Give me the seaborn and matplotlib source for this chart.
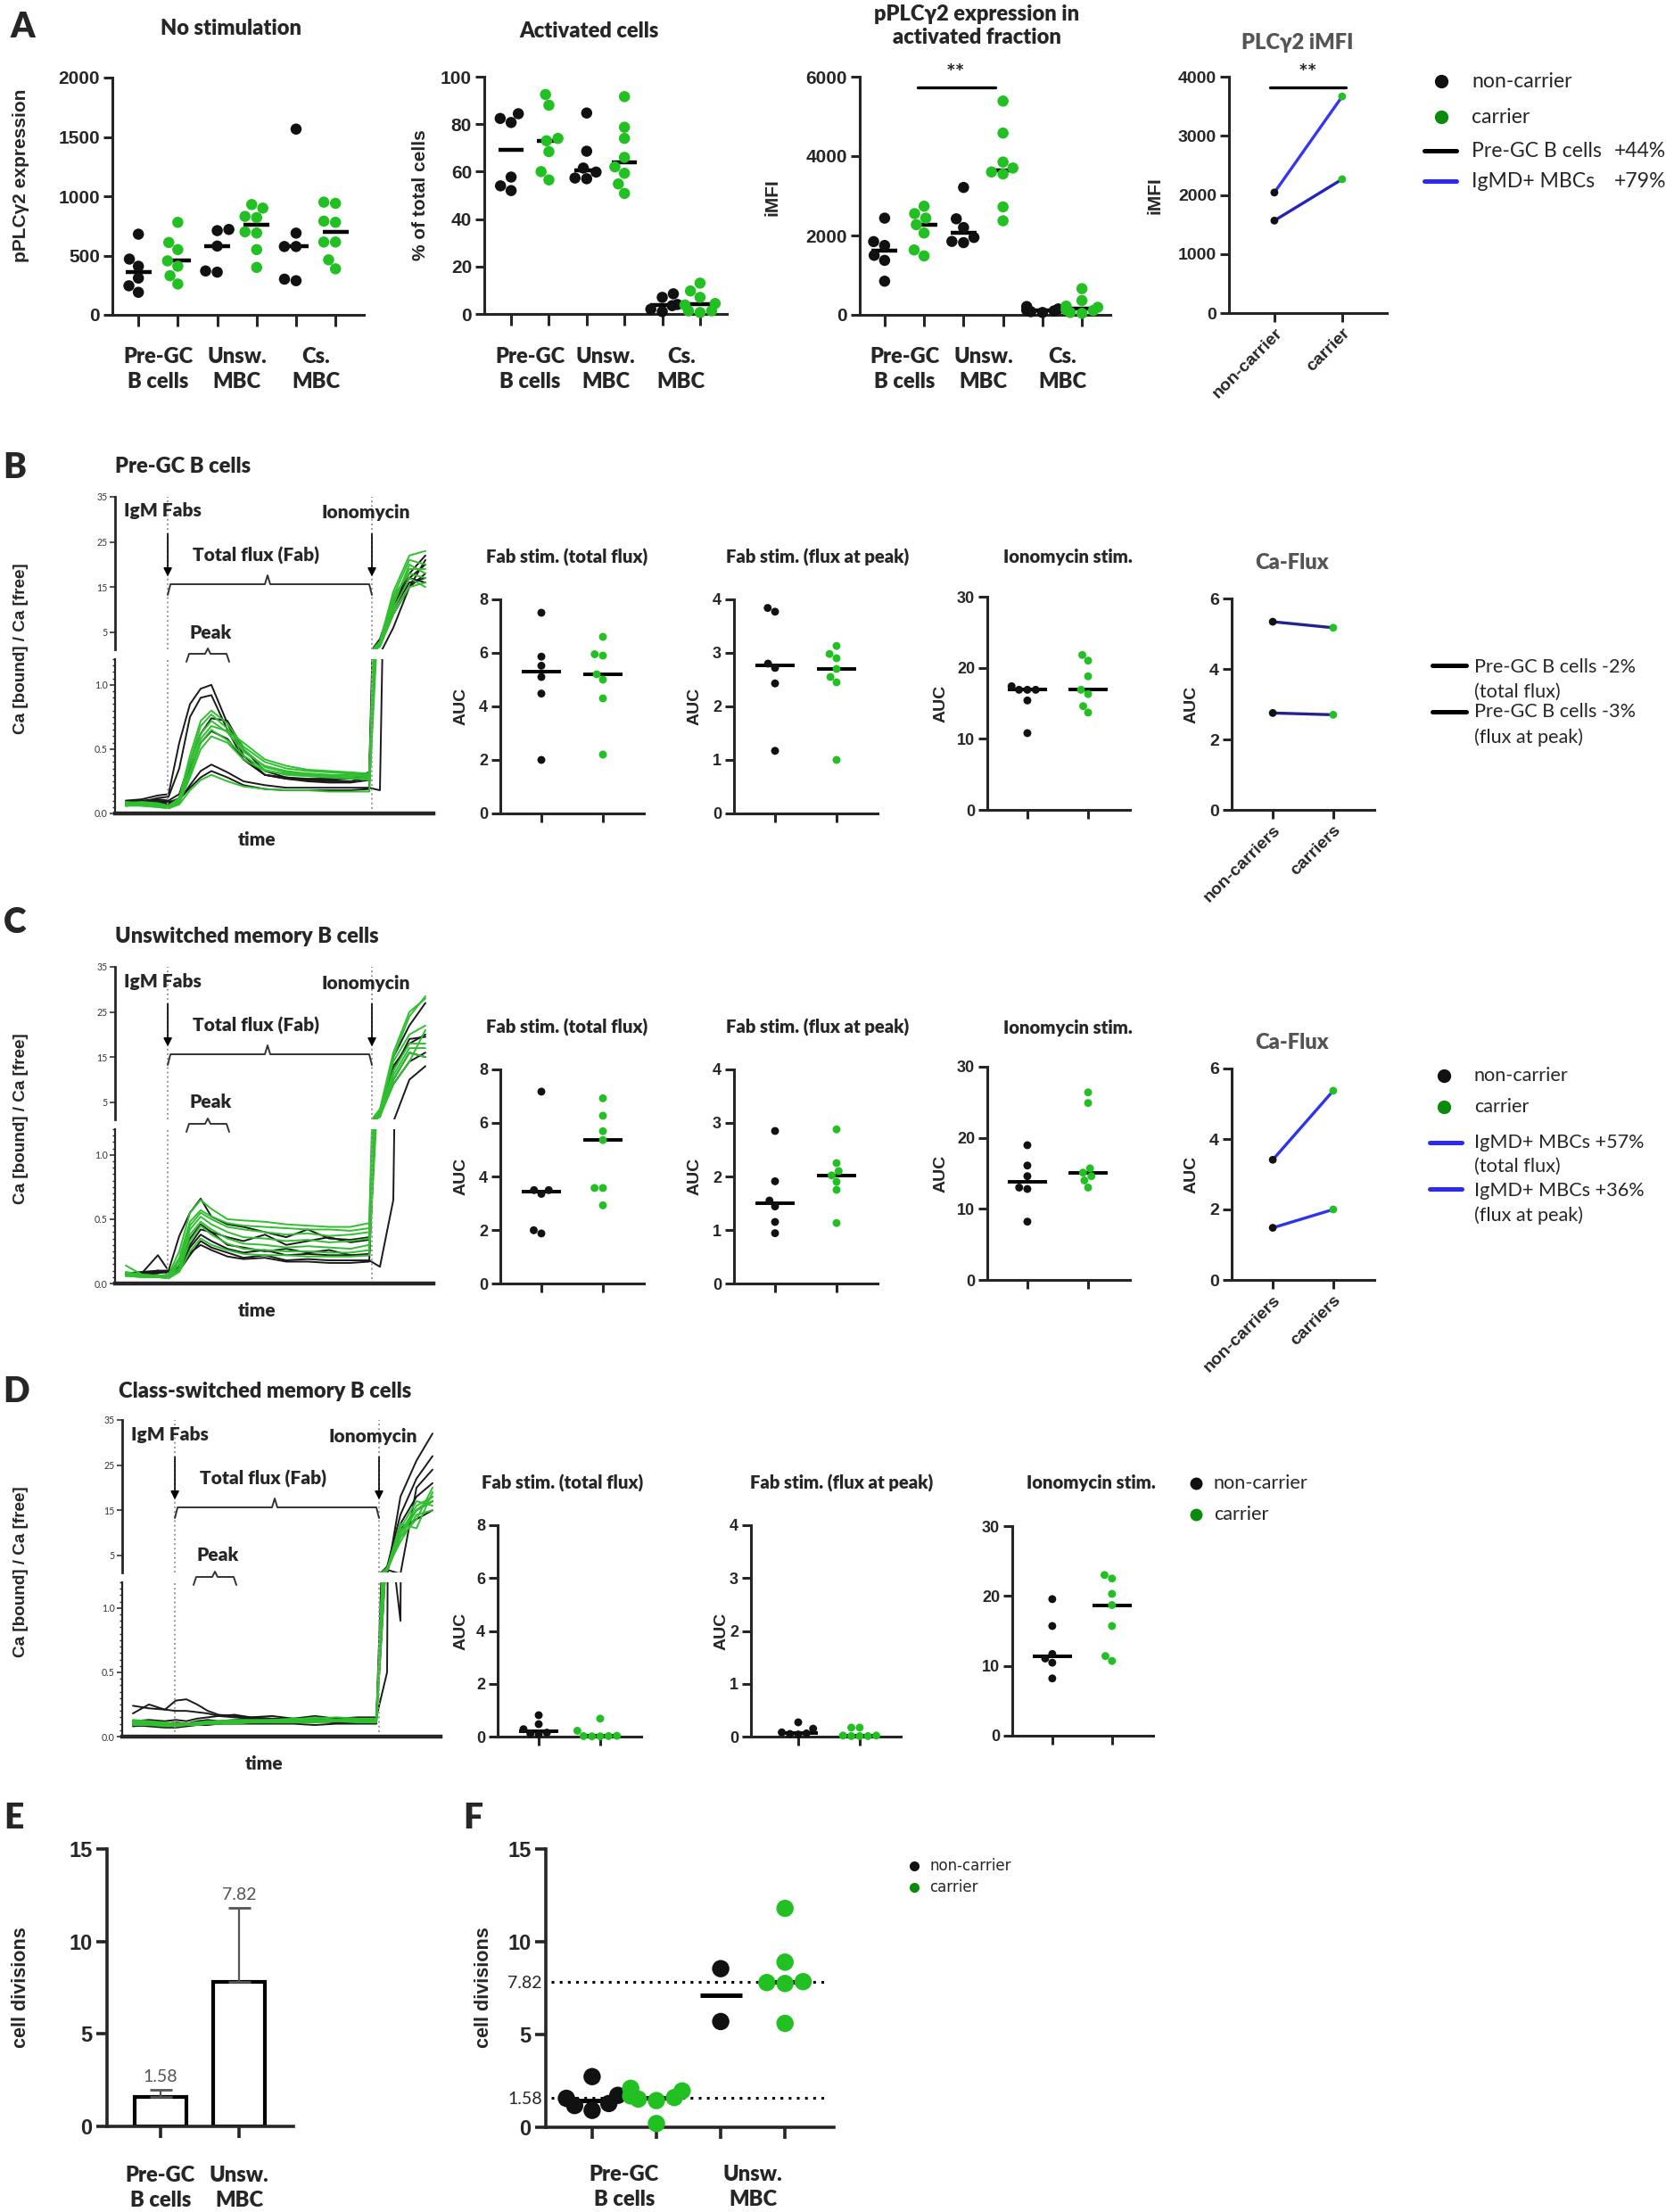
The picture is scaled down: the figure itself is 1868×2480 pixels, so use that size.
"""
BCR signalling figure: pPLCg2 expression, calcium flux and cell divisions
"""
import matplotlib
matplotlib.use("Agg")
import pandas as pd
import matplotlib.pyplot as plt
import seaborn as sns
from matplotlib import font_manager
from matplotlib.lines import Line2D
from matplotlib.patches import FancyArrowPatch
from matplotlib.ticker import MultipleLocator

W, H, DPI = 1868, 2480, 200

BLACK = "#111111"
GREEN = "#22c022"
GREEN_KEY = "#0b8a0b"
PAL = {"nc": BLACK, "c": GREEN}
HEAVY = "heavy"

# ---------------- data ----------------
CELL_LABELS = ["Pre-GC\nB cells", "Unsw.\nMBC", "Cs.\nMBC"]

# A - per cell type: [Pre-GC, Unsw., Cs.]
NOSTIM_NC = [[190, 245, 310, 410, 470, 680], [720, 710, 580, 370, 360],
             [1566, 689, 576, 576, 301, 288]]
NOSTIM_C = [[780, 610, 550, 455, 410, 330, 260], [930, 900, 830, 820, 700, 690, 550, 400],
            [950, 940, 790, 780, 614, 614, 464, 388]]
ACT_NC = [[84.4, 82.4, 80.7, 57.7, 54, 52], [84.7, 68.6, 61.5, 59.8, 57.3, 57],
          [8.5, 7, 4, 3.5, 2, 1]]
ACT_C = [[92.5, 88, 74, 73, 68.4, 60, 56.5], [91.6, 78.7, 74, 66, 62, 59.3, 54.8, 50.8],
         [13, 9.7, 7, 4.4, 3.8, 1.3, 1.3, 0.6]]
IMFI_NC = [[2437, 1845, 1748, 1500, 1373, 848], [3210, 2420, 2200, 1950, 1850, 1820],
           [210, 150, 120, 100, 80, 60]]
IMFI_C = [[2737, 2550, 2437, 2272, 2062, 1635, 1485], [5385, 4580, 3850, 3700, 3600, 3550, 2720, 2370],
          [660, 360, 220, 190, 130, 110, 60, 40]]
PLC_PAIRS = ["IgMD+ MBCs", "Pre-GC B cells"]
PLC_NC = [2040, 1565]
PLC_C = [3665, 2265]

# calcium traces, sampled at TIME
TIME = [4, 10, 16, 20, 24, 28, 32, 36, 42, 48, 56, 64, 72, 80, 88, 95, 99, 104, 110, 116]
FAB_T, IONO_T, T_END = 19.7, 96, 119

B_BLACK = [
    [0.10, 0.11, 0.14, 0.15, 0.55, 0.85, 0.97, 1.00, 0.70, 0.45, 0.30, 0.28, 0.27, 0.27, 0.28, 0.32, 3.5, 12, 18, 22],
    [0.08, 0.09, 0.12, 0.13, 0.35, 0.75, 0.90, 0.92, 0.65, 0.42, 0.30, 0.27, 0.26, 0.26, 0.27, 0.30, 3.0, 11, 17, 20],
    [0.09, 0.10, 0.11, 0.10, 0.15, 0.40, 0.62, 0.74, 0.72, 0.50, 0.33, 0.28, 0.26, 0.25, 0.25, 0.28, 2.5, 10, 16, 17],
    [0.07, 0.08, 0.09, 0.08, 0.12, 0.35, 0.55, 0.64, 0.58, 0.42, 0.30, 0.27, 0.25, 0.24, 0.24, 0.26, 2.8, 12, 17, 16],
    [0.06, 0.07, 0.08, 0.07, 0.10, 0.22, 0.33, 0.38, 0.32, 0.25, 0.22, 0.20, 0.20, 0.20, 0.20, 0.20, 0.18, 6, 15, 21],
    [0.08, 0.09, 0.10, 0.09, 0.11, 0.20, 0.28, 0.33, 0.28, 0.22, 0.19, 0.18, 0.18, 0.18, 0.18, 0.19, 2.0, 9, 15, 18],
]
B_GREEN = [
    [0.08, 0.09, 0.08, 0.06, 0.12, 0.45, 0.72, 0.80, 0.70, 0.52, 0.40, 0.35, 0.33, 0.32, 0.31, 0.30, 3.0, 14, 22, 23],
    [0.07, 0.08, 0.07, 0.05, 0.10, 0.40, 0.68, 0.77, 0.66, 0.50, 0.36, 0.32, 0.31, 0.30, 0.30, 0.29, 2.5, 13, 21, 20],
    [0.09, 0.08, 0.07, 0.06, 0.11, 0.38, 0.62, 0.72, 0.63, 0.48, 0.37, 0.33, 0.31, 0.30, 0.29, 0.28, 2.2, 12, 19, 19],
    [0.06, 0.07, 0.06, 0.05, 0.09, 0.33, 0.58, 0.68, 0.64, 0.55, 0.42, 0.37, 0.34, 0.33, 0.32, 0.31, 2.0, 11, 20, 18],
    [0.08, 0.07, 0.06, 0.05, 0.09, 0.30, 0.55, 0.65, 0.57, 0.45, 0.34, 0.30, 0.29, 0.28, 0.27, 0.27, 2.4, 13, 18, 17],
    [0.07, 0.06, 0.05, 0.04, 0.08, 0.28, 0.50, 0.60, 0.55, 0.42, 0.33, 0.31, 0.30, 0.29, 0.28, 0.26, 2.0, 10, 17, 15],
    [0.06, 0.06, 0.05, 0.04, 0.07, 0.18, 0.26, 0.30, 0.25, 0.21, 0.19, 0.18, 0.18, 0.17, 0.17, 0.17, 1.8, 9, 15, 16],
]
C_BLACK = [
    [0.07, 0.08, 0.08, 0.10, 0.37, 0.55, 0.66, 0.52, 0.46, 0.44, 0.40, 0.36, 0.42, 0.35, 0.34, 0.36, 1.8, 15, 22, 27],
    [0.06, 0.07, 0.08, 0.09, 0.12, 0.30, 0.42, 0.40, 0.36, 0.33, 0.38, 0.30, 0.33, 0.36, 0.32, 0.34, 2.5, 12, 19, 19.5],
    [0.08, 0.08, 0.09, 0.09, 0.12, 0.28, 0.38, 0.33, 0.27, 0.24, 0.26, 0.22, 0.23, 0.22, 0.22, 0.23, 2.0, 10, 16, 15],
    [0.07, 0.07, 0.10, 0.08, 0.10, 0.22, 0.33, 0.28, 0.24, 0.20, 0.22, 0.18, 0.19, 0.18, 0.18, 0.18, 0.13, 0.65, 10, 13],
    [0.07, 0.08, 0.22, 0.10, 0.12, 0.24, 0.30, 0.26, 0.21, 0.19, 0.20, 0.17, 0.17, 0.16, 0.16, 0.17, 2.2, 9, 14, 16],
    [0.08, 0.09, 0.10, 0.10, 0.14, 0.35, 0.46, 0.40, 0.30, 0.28, 0.25, 0.27, 0.24, 0.26, 0.22, 0.22, 2.8, 13, 18, 20],
]
C_GREEN = [
    [0.14, 0.07, 0.06, 0.07, 0.25, 0.55, 0.65, 0.58, 0.50, 0.49, 0.48, 0.46, 0.45, 0.44, 0.44, 0.47, 3.5, 16, 25, 28],
    [0.08, 0.06, 0.05, 0.06, 0.20, 0.48, 0.57, 0.52, 0.47, 0.45, 0.44, 0.43, 0.42, 0.42, 0.41, 0.43, 3.0, 15, 24, 28.5],
    [0.07, 0.06, 0.05, 0.05, 0.18, 0.45, 0.55, 0.50, 0.44, 0.42, 0.40, 0.38, 0.39, 0.37, 0.38, 0.40, 2.8, 14, 20, 22],
    [0.09, 0.07, 0.06, 0.05, 0.15, 0.42, 0.52, 0.46, 0.40, 0.36, 0.35, 0.33, 0.34, 0.32, 0.33, 0.35, 2.5, 12, 18, 18],
    [0.06, 0.05, 0.05, 0.05, 0.12, 0.38, 0.48, 0.42, 0.35, 0.31, 0.30, 0.28, 0.29, 0.28, 0.27, 0.30, 2.2, 11, 17, 17],
    [0.07, 0.06, 0.05, 0.04, 0.10, 0.33, 0.45, 0.38, 0.31, 0.27, 0.26, 0.25, 0.25, 0.24, 0.24, 0.26, 2.0, 10, 16, 15],
    [0.06, 0.05, 0.05, 0.04, 0.09, 0.25, 0.35, 0.30, 0.26, 0.23, 0.22, 0.22, 0.21, 0.21, 0.21, 0.22, 1.8, 9, 14, 21],
]
D_BLACK = [
    [0.18, 0.25, 0.21, 0.28, 0.29, 0.25, 0.20, 0.17, 0.16, 0.15, 0.14, 0.14, 0.14, 0.14, 0.15, 0.15, 0.5, 18, 26, 32],
    [0.24, 0.22, 0.21, 0.20, 0.20, 0.19, 0.18, 0.16, 0.15, 0.14, 0.13, 0.14, 0.13, 0.13, 0.13, 0.14, 2.5, 14, 22, 27],
    [0.12, 0.13, 0.12, 0.13, 0.12, 0.14, 0.15, 0.16, 0.17, 0.15, 0.16, 0.14, 0.16, 0.14, 0.14, 0.14, 1.8, 0.9, 20, 24],
    [0.10, 0.11, 0.10, 0.11, 0.10, 0.12, 0.13, 0.12, 0.13, 0.14, 0.13, 0.12, 0.13, 0.12, 0.13, 0.13, 2.0, 12, 18, 21],
    [0.08, 0.09, 0.08, 0.09, 0.09, 0.10, 0.11, 0.10, 0.11, 0.12, 0.11, 0.11, 0.12, 0.11, 0.11, 0.12, 1.5, 10, 15, 17],
    [0.09, 0.08, 0.07, 0.07, 0.08, 0.09, 0.09, 0.10, 0.10, 0.10, 0.10, 0.10, 0.09, 0.10, 0.10, 0.10, 2.2, 11, 13, 15],
]
D_GREEN = [
    [0.12, 0.11, 0.10, 0.10, 0.10, 0.11, 0.12, 0.12, 0.13, 0.13, 0.13, 0.14, 0.14, 0.15, 0.14, 0.14, 2.0, 12, 11, 19],
    [0.11, 0.10, 0.10, 0.09, 0.10, 0.10, 0.11, 0.12, 0.12, 0.12, 0.13, 0.13, 0.13, 0.13, 0.13, 0.13, 1.8, 10, 16, 18],
    [0.10, 0.10, 0.09, 0.09, 0.09, 0.10, 0.10, 0.11, 0.11, 0.12, 0.12, 0.12, 0.12, 0.13, 0.12, 0.12, 1.6, 9, 15, 17],
    [0.13, 0.12, 0.11, 0.10, 0.10, 0.11, 0.11, 0.11, 0.12, 0.12, 0.12, 0.13, 0.15, 0.13, 0.13, 0.13, 2.2, 8, 14, 15],
    [0.09, 0.09, 0.08, 0.08, 0.09, 0.09, 0.10, 0.10, 0.11, 0.11, 0.11, 0.11, 0.11, 0.12, 0.11, 0.11, 1.5, 9, 13, 20],
    [0.11, 0.11, 0.10, 0.10, 0.10, 0.10, 0.11, 0.11, 0.11, 0.12, 0.12, 0.12, 0.12, 0.12, 0.12, 0.12, 1.7, 11, 17, 16],
    [0.10, 0.09, 0.09, 0.08, 0.09, 0.09, 0.10, 0.10, 0.10, 0.11, 0.11, 0.11, 0.11, 0.12, 0.12, 0.12, 1.9, 10, 15, 18],
]

# AUC values
B_TOTAL_NC = [7.5, 5.86, 5.52, 5.1, 4.48, 2.0]
B_TOTAL_C = [6.6, 5.95, 5.9, 5.2, 5.0, 4.3, 2.2]
B_PEAK_NC = [3.84, 3.77, 2.8, 2.72, 2.43, 1.17]
B_PEAK_C = [3.13, 2.98, 2.9, 2.7, 2.55, 2.45, 1.0]
B_IONO_NC = [17.4, 16.9, 16.9, 16.9, 15.4, 10.8]
B_IONO_C = [21.8, 21.0, 18.8, 16.9, 16.3, 14.6, 13.7]
C_TOTAL_NC = [7.17, 3.49, 3.49, 3.35, 1.99, 1.87]
C_TOTAL_C = [6.92, 6.27, 5.69, 5.36, 3.57, 3.57, 2.92]
C_PEAK_NC = [2.85, 1.91, 1.55, 1.44, 1.15, 0.94]
C_PEAK_C = [2.88, 2.25, 2.1, 2.02, 1.9, 1.75, 1.13]
C_IONO_NC = [18.96, 16.1, 14.6, 13.0, 12.8, 8.2]
C_IONO_C = [26.4, 24.9, 15.7, 15.1, 14.6, 14.0, 13.0]
D_TOTAL_NC = [0.81, 0.47, 0.28, 0.15, 0.11, 0.09]
D_TOTAL_C = [0.68, 0.22, 0.03, 0.02, 0.02, 0.01, 0.01]
D_PEAK_NC = [0.27, 0.15, 0.08, 0.06, 0.05, 0.04]
D_PEAK_C = [0.17, 0.17, 0.02, 0.02, 0.01, 0.01, 0.01]
D_IONO_NC = [19.55, 15.7, 11.7, 11.05, 10.45, 8.2]
D_IONO_C = [23.0, 22.5, 20.3, 18.7, 15.7, 11.4, 10.7]

FLUX_PAIRS = ["total flux", "flux at peak"]
B_FLUX_NC = [5.34, 2.75]
B_FLUX_C = [5.17, 2.70]
C_FLUX_NC = [3.41, 1.48]
C_FLUX_C = [5.37, 2.0]

# E / F - cell divisions
E_CATS = ["Pre-GC\nB cells", "Unsw.\nMBC"]
E_MEAN = [1.58, 7.82]
E_ERR = [0.42, 3.98]
F_NC = [[2.73, 1.72, 1.56, 1.28, 1.17, 0.91], [8.55, 5.7]]
F_C = [[2.1, 1.96, 1.69, 1.6, 1.52, 1.44, 0.2], [11.8, 8.9, 7.85, 7.8, 7.75, 5.6]]

# ---------------- style ----------------
sns.set_style("ticks")


def has_bold(name):
    for f in font_manager.fontManager.ttflist:
        if f.name != name:
            continue
        w = f.weight
        if isinstance(w, str):
            w = font_manager.weight_dict.get(w, 400)
        if w >= 600:
            return True
    return False


def pick(candidates):
    for name in candidates:
        if has_bold(name):
            return name
    return "DejaVu Sans"


TEXT_FONT = [pick(["Lato", "Roboto", "Open Sans", "Noto Sans", "Liberation Sans"]), "DejaVu Sans"]
ARIAL = [pick(["Liberation Sans", "DejaVu Sans"]), "DejaVu Sans"]
NARROW = [pick(["Liberation Sans Narrow", "Liberation Sans"]), "DejaVu Sans"]
plt.rcParams["font.family"] = TEXT_FONT

fig = plt.figure(figsize=(W / DPI, H / DPI), dpi=DPI)


def box(l, t, r, b):
    """axes rectangle from pixel edges (top-left origin)"""
    return [l / W, 1 - b / H, (r - l) / W, (b - t) / H]


def fpt(x, y):
    return (x / W, 1 - y / H)


def label(x, y, s, size=7.5, weight=HEAVY, family=None, **kw):
    kw.setdefault("ha", "center")
    kw.setdefault("va", "center")
    fig.text(x / W, 1 - y / H, s, fontsize=size, fontweight=weight,
             family=family or TEXT_FONT, **kw)


def ylab(x, y, s, size=7):
    label(x, y, s, size=size, weight="bold", family=ARIAL, rotation=90)


def style(ax, lw=1.1, size=7, length=3.5):
    sns.despine(ax=ax)
    for side in ("left", "bottom"):
        ax.spines[side].set_linewidth(lw)
    ax.tick_params(width=lw, length=length, pad=1.5)
    ticks = ax.get_yticks()
    ax.set_yticks(ticks)
    ax.set_yticklabels([f"{v:g}" for v in ticks], fontsize=size, fontweight="bold", family=NARROW)
    ax.set_xlabel("")
    ax.set_ylabel("")


def dot_panel(rect, nc_sets, c_sets, ylim, yticks, size, xlim, med_lw=1.5, tick_size=7):
    ax = fig.add_axes(rect)
    rows, order = [], []
    for i, (nc, c) in enumerate(zip(nc_sets, c_sets)):
        for grp, vals in (("nc", nc), ("c", c)):
            key = f"{i}{grp}"
            order.append(key)
            rows += [(key, grp, v) for v in vals]
    df = pd.DataFrame(rows, columns=["pos", "grp", "val"])
    sns.swarmplot(data=df, x="pos", y="val", hue="grp", order=order, palette=PAL,
                  size=size, linewidth=0, legend=False, ax=ax)
    sns.boxplot(data=df, x="pos", y="val", order=order, showbox=False, showcaps=False,
                showfliers=False, whiskerprops={"visible": False},
                medianprops={"color": "black", "linewidth": med_lw}, width=0.65, ax=ax)
    ax.set_xlim(*xlim)
    ax.set_ylim(*ylim)
    ax.set_yticks(list(yticks))
    ax.set_xticks(range(len(order)))
    ax.set_xticklabels([])
    for coll in ax.collections:
        coll.set_clip_on(False)
    style(ax, size=tick_size)
    return ax


def paired_panel(rect, pairs, nc_vals, c_vals, line_colors, ylim, yticks, xlim, ticklabels):
    ax = fig.add_axes(rect)
    n = len(pairs)
    lines = pd.DataFrame({"x": [0] * n + [1] * n, "val": list(nc_vals) + list(c_vals),
                          "pair": list(pairs) * 2})
    sns.lineplot(data=lines, x="x", y="val", hue="pair", palette=dict(zip(pairs, line_colors)),
                 estimator=None, lw=1.2, legend=False, ax=ax)
    pts = lines.assign(grp=["nc"] * n + ["c"] * n)
    sns.scatterplot(data=pts, x="x", y="val", hue="grp", palette=PAL, s=10, edgecolor="none",
                    legend=False, ax=ax, zorder=3)
    ax.set_xlim(*xlim)
    ax.set_ylim(*ylim)
    ax.set_yticks(list(yticks))
    ax.set_xticks([0, 1])
    ax.set_xticklabels(ticklabels, rotation=45, ha="right", va="top", rotation_mode="anchor",
                       family=ARIAL, fontweight="bold", fontsize=7)
    for coll in ax.collections:
        coll.set_clip_on(False)
    style(ax)
    return ax


def brace(x0, x1, y, drop, tip, xm):
    xs = [x0, x0 + 3, xm - 3, xm, xm + 3, x1 - 3, x1]
    ys = [y + drop, y, y, y - tip, y, y, y + drop]
    fig.add_artist(Line2D([x / W for x in xs], [1 - v / H for v in ys], color="#333333",
                          lw=0.7, transform=fig.transFigure))


def key_dot(x, y, color, ms=4.5):
    fig.add_artist(Line2D([x / W], [1 - y / H], marker="o", ms=ms, color=color, ls="none",
                          transform=fig.transFigure))


def key_line(x0, x1, y, color, lw=1.8):
    fig.add_artist(Line2D([x0 / W, x1 / W], [1 - y / H] * 2, color=color, lw=lw,
                          transform=fig.transFigure))


def trace_panel(dx, dy, black, green):
    l, r = 129 + dx, 486 + dx
    up = fig.add_axes(box(l, 557 + dy, r, 728 + dy))
    lo = fig.add_axes(box(l, 739 + dy, r, 912 + dy))
    rows = []
    for grp, traces in (("nc", black), ("c", green)):
        for k, tr in enumerate(traces):
            rows += [(f"{grp}{k}", grp, t, v) for t, v in zip(TIME, tr)]
    df = pd.DataFrame(rows, columns=["trace", "grp", "t", "val"])
    for ax in (up, lo):
        sns.lineplot(data=df, x="t", y="val", hue="grp", units="trace", estimator=None,
                     palette={"nc": "#1a1a1a", "c": "#2fbf2f"}, lw=0.7, legend=False, ax=ax)
        for tv in (FAB_T, IONO_T):
            ax.axvline(tv, color="#9a9a9a", ls=":", lw=0.7)
        ax.set_xlim(0, T_END)
        ax.set_xticks([])
        ax.set_xlabel("")
        ax.set_ylabel("")
        sns.despine(ax=ax)
        ax.tick_params(axis="y", labelsize=3.8, length=2, width=0.6, pad=1, colors="#333333")
    up.set_ylim(1.2, 35)
    up.set_yticks([5, 15, 25, 35])
    up.spines["bottom"].set_visible(False)
    up.spines["left"].set_linewidth(1.0)
    lo.set_ylim(0, 1.2)
    lo.set_yticks([0, 0.5, 1.0])
    lo.set_yticklabels(["0.0", "0.5", "1.0"])
    lo.yaxis.set_minor_locator(MultipleLocator(0.05))
    lo.tick_params(axis="y", which="minor", length=1.2, width=0.5)
    lo.spines["left"].set_linewidth(0.8)
    lo.spines["bottom"].set_linewidth(1.6)

    # stimulation markers
    def tx(t):
        return l + t / T_END * (r - l)
    label(139 + dx, 573 + dy, "IgM Fabs", ha="left")
    label(410 + dx, 575 + dy, "Ionomycin")
    for tv in (FAB_T, IONO_T):
        fig.add_artist(FancyArrowPatch(fpt(tx(tv), 593 + dy), fpt(tx(tv), 652 + dy),
                                       transform=fig.transFigure, arrowstyle="-|>",
                                       mutation_scale=7, lw=0.6, color="black"))
    label(287 + dx, 623 + dy, "Total flux (Fab)")
    brace(tx(FAB_T), tx(IONO_T), 655 + dy, 12, 10, 300 + dx)
    label(236 + dx, 709 + dy, "Peak")
    brace(209 + dx, 257 + dx, 733 + dy, 9, 6, 233 + dx)
    label(288 + dx, 942 + dy, "time")
    ylab(24, 727 + dy, "Ca [bound] / Ca [free]", size=6.8)


def auc_row(dy, total, peak, iono, d_layout=False):
    """three AUC dot plots of one calcium row"""
    if d_layout:
        specs = [((558, 1710, 719, 1947), (-0.667, 1.667), 631, 517),
                 ((842, 1710, 1010, 1947), (-0.77, 1.67), 944, 809),
                 ((1135, 1711, 1293, 1946), (-0.67, 1.69), 1223, None)]
        ty = 1663
    else:
        specs = [((561, 672 + dy, 722, 912 + dy), (-0.667, 1.667), 636, 517),
                 ((823, 672 + dy, 984, 912 + dy), (-0.667, 1.667), 917, 779),
                 ((1107, 669 + dy, 1267, 908 + dy), (-0.66, 1.69), 1197, 1055)]
        ty = 625 + dy
    titles = ["Fab stim. (total flux)", "Fab stim. (flux at peak)", "Ionomycin stim."]
    scales = [((0, 8), [0, 2, 4, 6, 8]), ((0, 4), [0, 1, 2, 3, 4]), ((0, 30), [0, 10, 20, 30])]
    for (rc, xl, tcx, ylx), title, (ylim, yt), (nc, c) in zip(specs, titles, scales, (total, peak, iono)):
        l, t, r, b = rc
        dot_panel(box(l, t, r, b), [nc], [c], ylim, yt, 3.2, xl, med_lw=1.4, tick_size=6.5)
        label(tcx, ty, title, size=7.3)
        if ylx is not None:
            ylab(ylx, (t + b) / 2, "AUC")


# ---------------- A ----------------
label(25, 30, "A", size=14)
label(259, 32, "No stimulation", size=8.5)
label(661, 35, "Activated cells", size=8.5)
label(1095, 29, "pPLCγ2 expression in\nactivated fraction", size=8.5, linespacing=1.25)
label(1455, 48, "PLCγ2 iMFI", size=8.5, color="#555555")

a_specs = [
    ((126, 87, 408, 353), NOSTIM_NC, NOSTIM_C, (0, 2000), range(0, 2001, 500), (-0.66, 5.72),
     (24, 197, "pPLCγ2 expression")),
    ((543, 86, 815, 352), ACT_NC, ACT_C, (0, 100), range(0, 101, 20), (-0.71, 5.71),
     (471, 219, "% of total cells")),
    ((964, 86, 1245, 353), IMFI_NC, IMFI_C, (0, 6000), range(0, 6001, 2000), (-0.63, 5.72),
     (866, 221, "iMFI")),
]
a_axes = []
for rc, nc, c, ylim, yt, xl, (yx, yy, ys) in a_specs:
    l, t, r, b = rc
    ax = dot_panel(box(l, t, r, b), nc, c, ylim, yt, 4.5, xl, med_lw=1.6, tick_size=7.5)
    ax.tick_params(axis="x", length=4.5)
    for i, s in enumerate(CELL_LABELS):
        ax.text(2 * i + 0.5, (b - 414) / (b - t), s, transform=ax.get_xaxis_transform(),
                ha="center", va="center", fontsize=8.5, fontweight=HEAVY, linespacing=1.35)
    ylab(yx, yy, ys, size=7.5)
    a_axes.append(ax)

# significance bar on A3
ax3 = a_axes[2]
ax3.plot([0.85, 2.8], [5730, 5730], color="black", lw=1.2, clip_on=False)
ax3.text(1.8, 6070, "**", ha="center", va="center", fontsize=9, fontweight="bold")

ax4 = paired_panel(box(1378, 86, 1555, 351), PLC_PAIRS, PLC_NC, PLC_C, ["#3535f2", "#2424b8"],
                   (0, 4000), range(0, 4001, 1000), (-0.67, 1.66), ["non-carrier", "carrier"])
ax4.plot([-0.07, 1.05], [3820, 3820], color="black", lw=1.2, clip_on=False)
ax4.text(0.49, 4050, "**", ha="center", va="center", fontsize=9, fontweight="bold")
ylab(1295, 219, "iMFI", size=7.5)

key_dot(1616, 91, BLACK)
key_dot(1616, 131, GREEN_KEY)
key_line(1597, 1633, 169, "black")
key_line(1597, 1633, 203, "#2b2bf0")
for y, s in ((91, "non-carrier"), (131, "carrier"), (169, "Pre-GC B cells"), (203, "IgMD+ MBCs")):
    label(1650, y, s, size=8.3, weight="normal", ha="left")
label(1810, 169, "+44%", size=8.3, weight="normal", ha="left")
label(1810, 203, "+79%", size=8.3, weight="normal", ha="left")

# ---------------- B ----------------
label(16, 525, "B", size=14)
label(129, 523, "Pre-GC B cells", size=8.5, ha="left")
trace_panel(0, 0, B_BLACK, B_GREEN)
auc_row(0, (B_TOTAL_NC, B_TOTAL_C), (B_PEAK_NC, B_PEAK_C), (B_IONO_NC, B_IONO_C))
paired_panel(box(1381, 671, 1541, 908), FLUX_PAIRS, B_FLUX_NC, B_FLUX_C, ["#23238f", "#23238f"],
             (0, 6), [0, 2, 4, 6], (-0.68, 1.68), ["non-carriers", "carriers"])
label(1449, 631, "Ca-Flux", size=8.5, color="#555555")
ylab(1336, 790, "AUC")
key_line(1606, 1644, 746, "black")
key_line(1606, 1644, 798, "black")
for y, s in ((748, "Pre-GC B cells -2%"), (776, "(total flux)"),
             (798, "Pre-GC B cells -3%"), (827, "(flux at peak)")):
    label(1653, y, s, size=7.8, weight="normal", ha="left")

# ---------------- C ----------------
DY_C = 527
label(17, 1034, "C", size=14)
label(129, 1050, "Unswitched memory B cells", size=8.5, ha="left")
trace_panel(0, DY_C, C_BLACK, C_GREEN)
auc_row(DY_C, (C_TOTAL_NC, C_TOTAL_C), (C_PEAK_NC, C_PEAK_C), (C_IONO_NC, C_IONO_C))
paired_panel(box(1381, 671 + DY_C, 1541, 908 + DY_C), FLUX_PAIRS, C_FLUX_NC, C_FLUX_C,
             ["#2b35ee", "#2b35ee"], (0, 6), [0, 2, 4, 6], (-0.68, 1.68),
             ["non-carriers", "carriers"])
label(1449, 1169, "Ca-Flux", size=8.5, color="#555555")
ylab(1336, 790 + DY_C, "AUC")
key_dot(1619, 1206, BLACK)
key_dot(1619, 1241, GREEN_KEY)
label(1653, 1206, "non-carrier", size=7.8, weight="normal", ha="left")
label(1653, 1241, "carrier", size=7.8, weight="normal", ha="left")
key_line(1603, 1639, 1281, "#2b2bf0")
key_line(1603, 1639, 1333, "#2b2bf0")
for y, s in ((1281, "IgMD+ MBCs +57%"), (1308, "(total flux)"),
             (1335, "IgMD+ MBCs +36%"), (1363, "(flux at peak)")):
    label(1653, y, s, size=7.8, weight="normal", ha="left")

# ---------------- D ----------------
DY_D = 1035
label(18, 1560, "D", size=14)
label(133, 1560, "Class-switched memory B cells", size=8.5, ha="left")
trace_panel(8, DY_D, D_BLACK, D_GREEN)
auc_row(DY_D, (D_TOTAL_NC, D_TOTAL_C), (D_PEAK_NC, D_PEAK_C), (D_IONO_NC, D_IONO_C), d_layout=True)
key_dot(1341, 1663, BLACK, ms=4)
key_dot(1341, 1698, GREEN_KEY, ms=4)
label(1361, 1663, "non-carrier", size=7.8, weight="normal", ha="left")
label(1361, 1698, "carrier", size=7.8, weight="normal", ha="left")

# ---------------- E ----------------
label(15, 2038, "E", size=14)
axE = fig.add_axes(box(120, 2073, 329, 2384))
sns.barplot(x=E_CATS, y=E_MEAN, color="white", edgecolor="black", linewidth=1.5,
            width=0.66, errorbar=None, ax=axE)
axE.errorbar([0, 1], E_MEAN, yerr=[[0, 0], E_ERR], fmt="none", ecolor="#555555",
             elinewidth=0.8, capsize=4.5, capthick=1.0)
for i, (m, e) in enumerate(zip(E_MEAN, E_ERR)):
    axE.text(i, m + e + 0.7, f"{m:.2f}", ha="center", va="center", fontsize=7, color="#555555")
axE.set_xlim(-0.68, 1.69)
axE.set_ylim(0, 15)
axE.set_yticks([0, 5, 10, 15])
axE.set_xticks([0, 1])
axE.set_xticklabels([])
style(axE, lw=1.3, size=8.5, length=4.5)
for i, s in enumerate(E_CATS):
    axE.text(i, (2384 - 2453) / (2384 - 2073), s, transform=axE.get_xaxis_transform(),
             ha="center", va="center", fontsize=8.5, fontweight=HEAVY, linespacing=1.35)
ylab(24, 2228, "cell divisions", size=7.8)

# ---------------- F ----------------
label(530, 2038, "F", size=14)
axF = dot_panel(box(612, 2073, 935, 2385), F_NC, F_C, (0, 15), [0, 5, 10, 15], 7,
                (-0.72, 3.76), med_lw=1.8, tick_size=8.5)
for m in E_MEAN:
    axF.axhline(m, xmin=0.02, xmax=0.98, color="black", ls=(0, (1, 2)), lw=1.1, zorder=0)
axF.set_yticks(E_MEAN, minor=True)
axF.set_yticklabels([f"{m:.2f}" for m in E_MEAN], minor=True, fontsize=7,
                    fontweight="normal", family=TEXT_FONT)
for side in ("left", "bottom"):
    axF.spines[side].set_linewidth(1.3)
axF.tick_params(which="major", width=1.3, length=4.5)
axF.tick_params(axis="y", which="minor", length=0, pad=1.5)
for i, s in enumerate(E_CATS):
    axF.text(2 * i + 0.5, (2385 - 2452) / (2385 - 2073), s, transform=axF.get_xaxis_transform(),
             ha="center", va="center", fontsize=8.5, fontweight=HEAVY, linespacing=1.35)
ylab(543, 2228, "cell divisions", size=7.8)
key_dot(1025, 2092, BLACK, ms=3)
key_dot(1025, 2116, GREEN_KEY, ms=3)
label(1042, 2092, "non-carrier", size=6, weight="normal", ha="left", family=["DejaVu Sans"])
label(1042, 2116, "carrier", size=6, weight="normal", ha="left", family=["DejaVu Sans"])

fig.savefig("out.png", dpi=DPI)
